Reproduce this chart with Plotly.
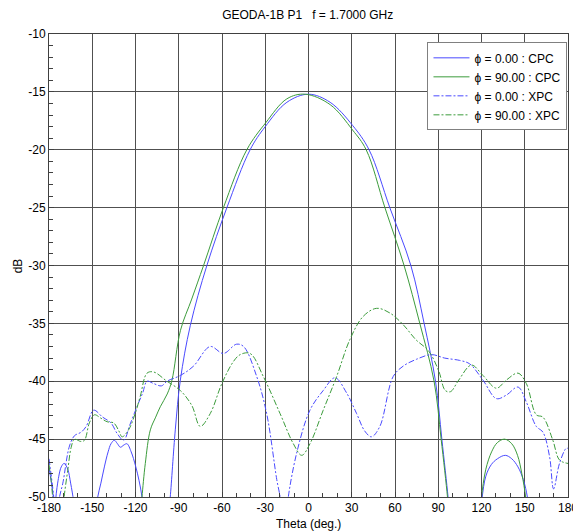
import plotly.graph_objects as go

N = None
# phi = 0.00 : CPC
theta_cpc0 = [-180, -178.5, -177, -176.2, N,
              -176, -174, -171.5, -169.5, -167, -165, -163, -162.5, N,
              -147, -146.2, -144, -141.6, -139, -137, -134.7, -132.5, -130.5, -128, -125.9, -123, -120, -117.5, -115.5, -114.8, N,
              -96.8, -95.9, -92.4, -88.9, -82, -70.5, -56.6, -40.5, -30, -15, 0, 15, 30.6, 42, 56.4, 71, 80.2, 88.1, 92.5, 96.8, 97.4, N,
              119.8, 120.5, 123, 126.8, 131, 136.5, 141, 145.3, 149, 151.8, 152.4]
db_cpc0 = [-47.5, -48.6, -50, -51, N,
           -51, -48.8, -47.4, -47.1, -47.6, -48.8, -50.3, -51, N,
           -51, -50, -48.8, -47.4, -46.1, -45.4, -45.1, -45.4, -45.7, -45.5, -45.4, -46.1, -47.3, -48.6, -50, -51, N,
           -51, -50, -44.2, -39.9, -35.2, -30, -25, -20, -18.0, -15.9, -15.2, -15.9, -17.9, -20, -25, -30, -35, -40, -45, -50, -51, N,
           -51, -50, -48.2, -47.2, -46.7, -46.4, -46.7, -47.4, -48.5, -50, -51]

# phi = 90.00 : CPC
theta_cpc90 = [-116.2, -115.5, -113.2, -109.7, -106, -102.8, -98, -94.7, -88.8, -81, -72.8, -59, -42.8, -29.6, -15, -2.4, 15, 30.6, 40, 53, 66.3, 77.2, 87.1, 92, 96.4, 97, N,
               119.3, 120, 123, 127, 131, 136, 141, 145, 148, 150.6, 151.2]
db_cpc90 = [-51, -50, -47.1, -44.2, -43.1, -42.2, -41.1, -39.9, -35.6, -32.9, -30, -25, -20, -17.66, -15.6, -15.2, -16.1, -18.3, -20, -25, -30, -35, -40, -45, -50, -51, N,
            -51, -50, -47.6, -46.1, -45.3, -45, -45.4, -46.4, -48, -50, -51]

# phi = 0.00 : XPC
theta_xpc0 = [-180, -178.5, -176.7, -176, N,
              -173.5, -172.7, -170.4, -165.8, -162.3, -157.7, -154.2, -149, -142.8, -137, -132.8, -128.2, -124, -119, -115, -112, -107.4, -102, -98.2, -88.9, -79.8, -68.2, -59, -50, -45, -35.9, -29, -22, -19.7, -19, N,
              -14.6, -14, -8.2, 1, 10.2, 18.4, 26.4, 33.4, 39, 43.7, 49.5, 58.7, 65.6, 74.9, 85.3, 94.5, 104.9, 111.8, 121, 130.3, 137.2, 145.3, 151.1, 158, 162.6, 167.2, 170, 174.1, 178.7, 180]
db_xpc0 = [-46.7, -48.1, -50, -51, N,
           -51, -50, -48.8, -45.6, -44.7, -44.4, -43.9, -42.5, -43.1, -43.6, -44.5, -45.1, -43.8, -42.2, -41, -40.0, -40.2, -40.4, -40.0, -39.5, -38.7, -37.0, -37.6, -36.8, -37.0, -39.6, -42.8, -48.5, -50, -51, N,
           -51, -50, -46.2, -42.5, -40.8, -39.7, -41.0, -42.8, -44.3, -44.8, -43.9, -39.6, -38.7, -38.1, -37.7, -38.0, -38.2, -38.5, -39.9, -41.5, -41.2, -40.5, -41.8, -43.9, -44.4, -46.5, -49.3, -47.1, -45.8, -45.8]

# phi = 90.00 : XPC
theta_xpc90 = [-180, -178.5, -177.5, -177, N,
               -170, -169.5, -167, -164.6, -162.3, -158, -155.4, -152, -148.5, -143.9, -139.7, -135.1, -131.5, -129.3, -124.8, -120, -116.7, -112, -107.4, -98.2, -88.9, -80.9, -75.1, -68.2, -60.1, -52.1, -47.4, -40.5, -31.3, -19.7, -10.5, -4.7, 1, 10.2, 19.5, 28.7, 37.9, 47.2, 56.4, 65.6, 74.4, 83.4, 90.3, 94.9, 98.5, 104.2, 113, 121, 130.3, 137.2, 145.3, 151.1, 158, 162.6, 169.5, 174.1, 180]
db_xpc90 = [-47.2, -48.6, -50, -51, N,
            -51, -50, -47.7, -45.7, -45, -45.2, -45.1, -43.6, -42.9, -43.2, -43.5, -43.6, -44.3, -44.8, -44.2, -42.7, -41.3, -39.3, -39.2, -40.0, -40.8, -42.1, -43.9, -42.8, -40.2, -38.3, -37.7, -37.6, -39.6, -42.8, -45.4, -46.4, -45.4, -42.5, -39.6, -36.4, -34.4, -33.7, -34.1, -35.1, -36.4, -37.4, -39.1, -40.8, -40.9, -39.9, -38.6, -39.5, -40.6, -39.9, -39.3, -40.2, -42.9, -43.1, -45.1, -46.8, -47.1]

x_ticks = list(range(-180, 181, 30))
y_ticks = list(range(-50, -9, 5))
title_text = "GEODA-1B P1   f = 1.7000 GHz"
x_title = "Theta (deg.)"
y_title = "dB"

BLUE = "#4a4aff"
GREEN = "#3c9c3c"
DASH = "6px,2px,2px,2px"

fig = go.Figure()
series = [
    (theta_cpc0, db_cpc0, "ϕ = 0.00 : CPC", BLUE, "solid"),
    (theta_cpc90, db_cpc90, "ϕ = 90.00 : CPC", GREEN, "solid"),
    (theta_xpc0, db_xpc0, "ϕ = 0.00 : XPC", BLUE, DASH),
    (theta_xpc90, db_xpc90, "ϕ = 90.00 : XPC", GREEN, DASH),
]
for xs, ys, name, col, dash in series:
    fig.add_trace(go.Scatter(x=xs, y=ys, name=name, mode="lines", connectgaps=False,
                             line=dict(color=col, width=1, dash=dash, shape="spline", smoothing=1.0)))

GRID = "#505050"
fig.update_layout(
    width=573, height=531,
    margin=dict(l=49, r=5, t=34, b=34, autoexpand=False),
    paper_bgcolor="white", plot_bgcolor="white",
    font=dict(family="Liberation Sans, Arial, sans-serif", size=12, color="black"),
    title=dict(text=title_text, x=0.537, xanchor="center", y=0.972, yanchor="middle",
               font=dict(size=12, color="black")),
    showlegend=True,
    legend=dict(x=0.999, y=0.982, xanchor="right", yanchor="top", itemwidth=36,
                bgcolor="white", bordercolor="#808080", borderwidth=1,
                font=dict(size=12, color="black"), tracegroupgap=0),
    xaxis=dict(range=[-180, 180], tickvals=x_ticks, ticktext=[str(v) for v in x_ticks],
               automargin=False, ticklabeloverflow="allow",
               showgrid=True, gridcolor=GRID, gridwidth=1, zeroline=False,
               showline=True, linecolor="#404040", linewidth=1, mirror=True,
               ticks="inside", ticklen=5, tickcolor="#404040",
               minor=dict(dtick=10, ticks="inside", ticklen=4, tickcolor="#404040", showgrid=False)),
    yaxis=dict(range=[-50, -10], tickvals=y_ticks, ticktext=[str(v) for v in y_ticks],
               automargin=False, ticklabeloverflow="allow",
               showgrid=True, gridcolor=GRID, gridwidth=1, zeroline=False,
               showline=True, linecolor="#404040", linewidth=1, mirror=True,
               ticks="inside", ticklen=5, tickcolor="#404040",
               minor=dict(dtick=1, ticks="inside", ticklen=4, tickcolor="#404040", showgrid=False)),
    annotations=[
        dict(text=x_title, xref="paper", yref="paper", x=0.5, y=-0.058, xanchor="center", yanchor="middle",
             showarrow=False, font=dict(size=12, color="black")),
        dict(text=y_title, xref="paper", yref="paper", x=-0.06, y=0.5, xanchor="center", yanchor="middle",
             textangle=-90, showarrow=False, font=dict(size=12, color="black")),
    ],
)

fig.write_html("out.html", config={"displayModeBar": False},
               post_script="document.body.style.margin='0';document.body.style.overflow='hidden';")
